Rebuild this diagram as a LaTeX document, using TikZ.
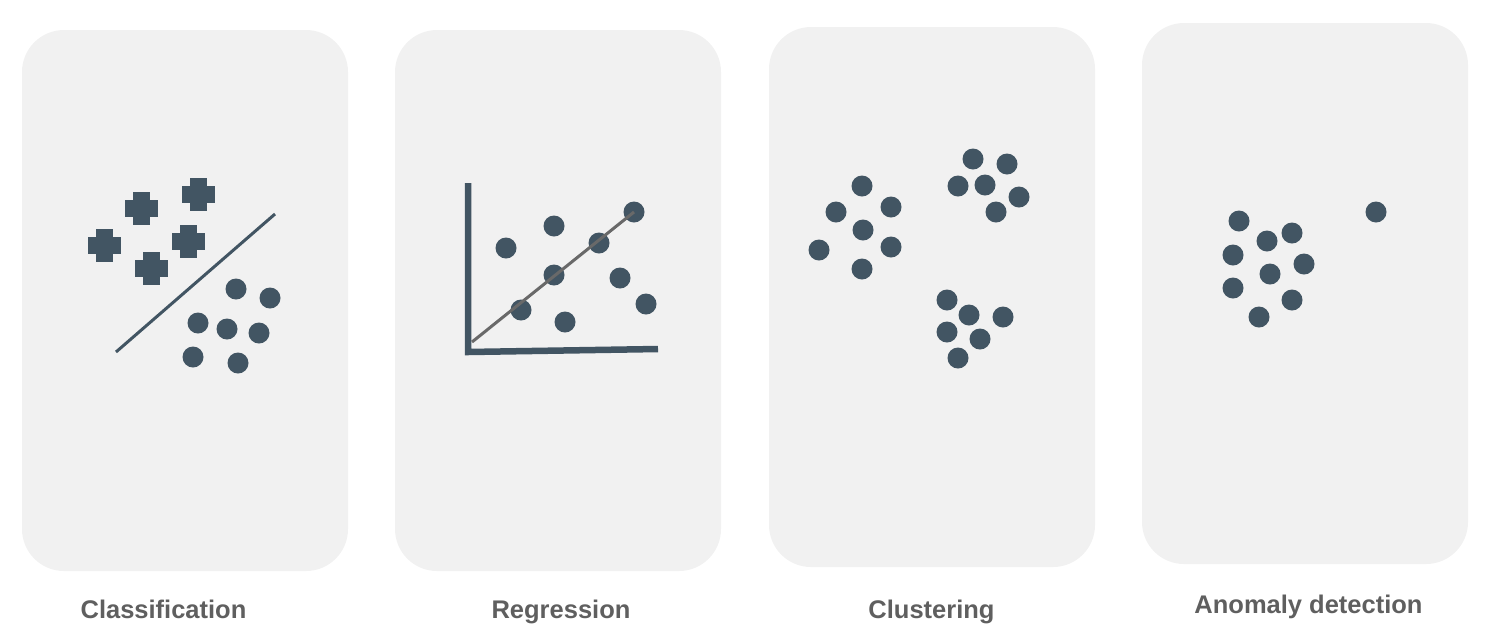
\documentclass[tikz,border=0pt]{standalone}
\usepackage{fontspec}
\setmainfont{Liberation Sans}
\usetikzlibrary{positioning}

\definecolor{cardgray}{RGB}{241,241,241}
\definecolor{slate}{RGB}{66,85,99}
\definecolor{linegray}{RGB}{105,105,105}
\definecolor{labelgray}{RGB}{95,95,95}

\tikzset{
  card/.style={fill=cardgray, rounded corners=42pt},
  dot/.style={fill=slate},
  caption/.style={anchor=base, text=labelgray, font=\fontsize{25.5}{30}\selectfont\bfseries}
}

% a plus sign centred at (#1,#2)
\newcommand{\plusmark}[2]{%
  \fill[slate] (#1-16.5,#2-8.5) rectangle (#1+16.5,#2+8.5);
  \fill[slate] (#1-8.5,#2-16.5) rectangle (#1+8.5,#2+16.5);}

\begin{document}
\begin{tikzpicture}[x=1pt, y=-1pt]
  \newcommand{\dotr}{10.5pt} % radius of a dot

  \useasboundingbox (0,0) rectangle (1506,641);

  % Cards
  \fill[card] (22,30) rectangle (348,571);    % Classification
  \fill[card] (395,30) rectangle (721,571);   % Regression
  \fill[card] (769,27) rectangle (1095,567);  % Clustering
  \fill[card] (1142,23) rectangle (1468,564); % Anomaly detection

  % Classification
  \plusmark{141}{208}
  \plusmark{198}{194}
  \plusmark{104}{245}
  \plusmark{188}{241}
  \plusmark{151}{268}
  \draw[slate, line width=3pt] (116,352) -- (275,214);
  \foreach \x/\y in {236/289, 270/298, 198/323, 227/329, 259/333, 193/357, 238/363}
    \fill[dot] (\x,\y) circle (\dotr);

  % Regression
  \draw[slate, line width=6.5pt] (468,183) -- (468,352) -- (658,349);
  \foreach \x/\y in {506/248, 554/226, 634/212, 599/243, 554/275, 620/278, 521/310, 646/304, 565/322}
    \fill[dot] (\x,\y) circle (\dotr);
  \draw[linegray, line width=3pt] (472,342) -- (634,212);

  % Clustering
  \foreach \x/\y in {862/186, 836/212, 891/207, 863/230, 819/250, 891/247, 862/269}
    \fill[dot] (\x,\y) circle (\dotr);
  \foreach \x/\y in {973/159, 1007/164, 958/186, 985/185, 1019/197, 996/212}
    \fill[dot] (\x,\y) circle (\dotr);
  \foreach \x/\y in {947/300, 969/315, 1003/317, 947/332, 980/339, 958/358}
    \fill[dot] (\x,\y) circle (\dotr);

  % Anomaly detection
  \foreach \x/\y in {1239/221, 1267/241, 1292/233, 1233/255, 1270/274, 1304/264, 1233/288, 1292/300, 1259/317}
    \fill[dot] (\x,\y) circle (\dotr);
  \fill[dot] (1376,212) circle (\dotr); % the outlier

  % Labels
  \node[caption] (classification) at (163.5,618) {Classification};
  \node[caption] (regression) at (561,618) {Regression};
  \node[caption] (clustering) at (931.5,618) {Clustering};
  \node[caption] (anomaly) at (1308.5,613) {Anomaly detection};
\end{tikzpicture}
\end{document}
